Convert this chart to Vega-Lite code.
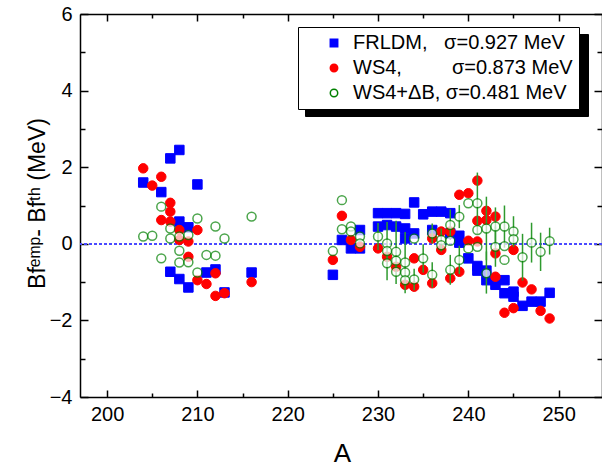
{
  "$schema": "https://vega.github.io/schema/vega-lite/v6.json",
  "width": 522,
  "height": 383,
  "autosize": {"type": "none"},
  "padding": {"left": 80, "top": 14, "right": 0, "bottom": 71},
  "background": "white",
  "config": {
    "font": "Liberation Sans",
    "view": {"stroke": null},
    "axis": {
      "grid": false,
      "domainColor": "black",
      "domainWidth": 1.5,
      "tickColor": "black",
      "tickWidth": 1.5,
      "labelColor": "black",
      "titleColor": "black",
      "labelFont": "Liberation Sans",
      "titleFont": "Liberation Sans",
      "titleFontWeight": "normal",
      "labelFontSize": 20
    }
  },
  "data": {
    "values": [
      {"model": "FRLDM", "A": 204, "v": 1.60}, {"model": "FRLDM", "A": 206, "v": 1.35}, {"model": "FRLDM", "A": 207, "v": 2.23}, {"model": "FRLDM", "A": 208, "v": 2.45}, {"model": "FRLDM", "A": 210, "v": 1.55}, {"model": "FRLDM", "A": 208, "v": 0.58}, {"model": "FRLDM", "A": 209, "v": 0.43}, {"model": "FRLDM", "A": 207, "v": -0.73}, {"model": "FRLDM", "A": 208, "v": -0.92}, {"model": "FRLDM", "A": 209, "v": -1.14}, {"model": "FRLDM", "A": 211, "v": -0.75}, {"model": "FRLDM", "A": 212, "v": -0.67}, {"model": "FRLDM", "A": 213, "v": -1.27}, {"model": "FRLDM", "A": 216, "v": -0.75},
      {"model": "FRLDM", "A": 225, "v": -0.81}, {"model": "FRLDM", "A": 226, "v": 0.10}, {"model": "FRLDM", "A": 227, "v": -0.12}, {"model": "FRLDM", "A": 228, "v": 0.36}, {"model": "FRLDM", "A": 228, "v": -0.12}, {"model": "FRLDM", "A": 230, "v": 0.80}, {"model": "FRLDM", "A": 230, "v": 0.45}, {"model": "FRLDM", "A": 231, "v": 0.80}, {"model": "FRLDM", "A": 231, "v": 0.49}, {"model": "FRLDM", "A": 232, "v": 0.80}, {"model": "FRLDM", "A": 232, "v": 0.45}, {"model": "FRLDM", "A": 233, "v": 0.78}, {"model": "FRLDM", "A": 233, "v": 0.40}, {"model": "FRLDM", "A": 233, "v": 0.14}, {"model": "FRLDM", "A": 234, "v": 1.08}, {"model": "FRLDM", "A": 234, "v": 0.27}, {"model": "FRLDM", "A": 235, "v": 0.77}, {"model": "FRLDM", "A": 236, "v": 0.84}, {"model": "FRLDM", "A": 236, "v": 0.36}, {"model": "FRLDM", "A": 237, "v": 0.84}, {"model": "FRLDM", "A": 238, "v": 0.80}, {"model": "FRLDM", "A": 238, "v": 0.27}, {"model": "FRLDM", "A": 239, "v": 0.21}, {"model": "FRLDM", "A": 239, "v": 0.03}, {"model": "FRLDM", "A": 240, "v": -0.38}, {"model": "FRLDM", "A": 241, "v": -0.58}, {"model": "FRLDM", "A": 241, "v": -0.70}, {"model": "FRLDM", "A": 242, "v": -0.70}, {"model": "FRLDM", "A": 242, "v": -0.95}, {"model": "FRLDM", "A": 243, "v": -1.07}, {"model": "FRLDM", "A": 244, "v": -0.95}, {"model": "FRLDM", "A": 244, "v": -1.29}, {"model": "FRLDM", "A": 245, "v": -1.25}, {"model": "FRLDM", "A": 245, "v": -1.38}, {"model": "FRLDM", "A": 246, "v": -1.62}, {"model": "FRLDM", "A": 247, "v": -1.51}, {"model": "FRLDM", "A": 248, "v": -1.51}, {"model": "FRLDM", "A": 249, "v": -1.28},
      {"model": "WS4", "A": 204, "v": 1.97}, {"model": "WS4", "A": 205, "v": 1.52}, {"model": "WS4", "A": 206, "v": 1.75}, {"model": "WS4", "A": 207, "v": 1.07}, {"model": "WS4", "A": 207, "v": 0.84}, {"model": "WS4", "A": 206, "v": 0.62}, {"model": "WS4", "A": 207, "v": 0.58}, {"model": "WS4", "A": 208, "v": 0.36}, {"model": "WS4", "A": 210, "v": 0.36}, {"model": "WS4", "A": 209, "v": 0.06}, {"model": "WS4", "A": 208, "v": 0.10}, {"model": "WS4", "A": 209, "v": -0.34}, {"model": "WS4", "A": 210, "v": -0.95}, {"model": "WS4", "A": 211, "v": -1.05}, {"model": "WS4", "A": 212, "v": -0.77}, {"model": "WS4", "A": 212, "v": -1.36}, {"model": "WS4", "A": 213, "v": -1.29}, {"model": "WS4", "A": 216, "v": -1.00},
      {"model": "WS4", "A": 225, "v": -0.42}, {"model": "WS4", "A": 226, "v": 0.73}, {"model": "WS4", "A": 227, "v": 0.10}, {"model": "WS4", "A": 228, "v": -0.08}, {"model": "WS4", "A": 230, "v": -0.12}, {"model": "WS4", "A": 231, "v": -0.34}, {"model": "WS4", "A": 232, "v": -0.60}, {"model": "WS4", "A": 233, "v": -1.07}, {"model": "WS4", "A": 234, "v": -1.12}, {"model": "WS4", "A": 234, "v": -0.38}, {"model": "WS4", "A": 235, "v": -0.68}, {"model": "WS4", "A": 236, "v": -1.03}, {"model": "WS4", "A": 236, "v": 0.14}, {"model": "WS4", "A": 237, "v": 0.32}, {"model": "WS4", "A": 237, "v": -0.16}, {"model": "WS4", "A": 238, "v": 0.32}, {"model": "WS4", "A": 238, "v": -0.90}, {"model": "WS4", "A": 239, "v": -0.73}, {"model": "WS4", "A": 239, "v": 1.28}, {"model": "WS4", "A": 240, "v": 1.32}, {"model": "WS4", "A": 240, "v": 0.08}, {"model": "WS4", "A": 241, "v": 1.65}, {"model": "WS4", "A": 241, "v": 0.60}, {"model": "WS4", "A": 241, "v": 0.06}, {"model": "WS4", "A": 242, "v": 0.86}, {"model": "WS4", "A": 242, "v": 0.62}, {"model": "WS4", "A": 243, "v": 0.71}, {"model": "WS4", "A": 243, "v": -0.25}, {"model": "WS4", "A": 243, "v": -0.86}, {"model": "WS4", "A": 244, "v": -1.80}, {"model": "WS4", "A": 245, "v": -0.16}, {"model": "WS4", "A": 245, "v": -1.68}, {"model": "WS4", "A": 246, "v": -1.01}, {"model": "WS4", "A": 247, "v": -1.19}, {"model": "WS4", "A": 248, "v": -1.75}, {"model": "WS4", "A": 249, "v": -1.95},
      {"model": "WS4+ΔB", "A": 204, "v": 0.19}, {"model": "WS4+ΔB", "A": 205, "v": 0.21}, {"model": "WS4+ΔB", "A": 206, "v": 0.97}, {"model": "WS4+ΔB", "A": 206, "v": -0.38}, {"model": "WS4+ΔB", "A": 207, "v": 0.40}, {"model": "WS4+ΔB", "A": 207, "v": 0.14}, {"model": "WS4+ΔB", "A": 208, "v": 0.19}, {"model": "WS4+ΔB", "A": 208, "v": -0.18}, {"model": "WS4+ΔB", "A": 208, "v": -0.49}, {"model": "WS4+ΔB", "A": 209, "v": 0.23}, {"model": "WS4+ΔB", "A": 209, "v": -0.48}, {"model": "WS4+ΔB", "A": 210, "v": 0.66}, {"model": "WS4+ΔB", "A": 210, "v": -0.75}, {"model": "WS4+ΔB", "A": 211, "v": -0.29}, {"model": "WS4+ΔB", "A": 212, "v": 0.45}, {"model": "WS4+ΔB", "A": 212, "v": -0.31}, {"model": "WS4+ΔB", "A": 213, "v": 0.14}, {"model": "WS4+ΔB", "A": 216, "v": 0.71},
      {"model": "WS4+ΔB", "A": 225, "v": -0.19}, {"model": "WS4+ΔB", "A": 226, "v": 1.14}, {"model": "WS4+ΔB", "A": 226, "v": 0.38}, {"model": "WS4+ΔB", "A": 227, "v": 0.45}, {"model": "WS4+ΔB", "A": 227, "v": 0.32}, {"model": "WS4+ΔB", "A": 228, "v": 0.19}, {"model": "WS4+ΔB", "A": 228, "v": 0.01},
      {"model": "WS4+ΔB", "A": 230, "v": 0.19, "lo": -0.16, "hi": 0.54}, {"model": "WS4+ΔB", "A": 231, "v": 0.01}, {"model": "WS4+ΔB", "A": 231, "v": -0.19, "lo": -0.95, "hi": 0.57}, {"model": "WS4+ΔB", "A": 231, "v": -0.51}, {"model": "WS4+ΔB", "A": 232, "v": -0.21, "lo": -1.05, "hi": 0.60}, {"model": "WS4+ΔB", "A": 232, "v": -0.44}, {"model": "WS4+ΔB", "A": 232, "v": -0.73}, {"model": "WS4+ΔB", "A": 233, "v": -0.49, "lo": -1.29, "hi": 0.31}, {"model": "WS4+ΔB", "A": 233, "v": -0.75}, {"model": "WS4+ΔB", "A": 233, "v": -0.95}, {"model": "WS4+ΔB", "A": 234, "v": 0.14}, {"model": "WS4+ΔB", "A": 234, "v": -0.93, "lo": -1.21, "hi": -0.65}, {"model": "WS4+ΔB", "A": 235, "v": -0.38, "lo": -0.75, "hi": -0.01}, {"model": "WS4+ΔB", "A": 236, "v": 0.27, "lo": 0.01, "hi": 0.53}, {"model": "WS4+ΔB", "A": 236, "v": -0.81, "lo": -1.14, "hi": -0.48}, {"model": "WS4+ΔB", "A": 237, "v": 0.10, "lo": -0.2, "hi": 0.4}, {"model": "WS4+ΔB", "A": 237, "v": -0.04}, {"model": "WS4+ΔB", "A": 238, "v": 0.49, "lo": 0.1, "hi": 0.9}, {"model": "WS4+ΔB", "A": 238, "v": 0.08}, {"model": "WS4+ΔB", "A": 238, "v": -0.68, "lo": -1.07, "hi": -0.29}, {"model": "WS4+ΔB", "A": 239, "v": 0.71, "lo": 0.41, "hi": 1.01}, {"model": "WS4+ΔB", "A": 239, "v": -0.42, "lo": -0.79, "hi": -0.05}, {"model": "WS4+ΔB", "A": 240, "v": 1.06}, {"model": "WS4+ΔB", "A": 240, "v": -0.12}, {"model": "WS4+ΔB", "A": 241, "v": 1.06, "lo": 0.26, "hi": 1.86}, {"model": "WS4+ΔB", "A": 241, "v": 0.36}, {"model": "WS4+ΔB", "A": 241, "v": -0.08}, {"model": "WS4+ΔB", "A": 242, "v": 0.40, "lo": -0.43, "hi": 1.23}, {"model": "WS4+ΔB", "A": 242, "v": -0.77, "lo": -1.3, "hi": -0.2}, {"model": "WS4+ΔB", "A": 243, "v": 0.45, "lo": -0.05, "hi": 0.95}, {"model": "WS4+ΔB", "A": 243, "v": -0.08, "lo": -0.6, "hi": 0.45}, {"model": "WS4+ΔB", "A": 244, "v": 0.45, "lo": -0.1, "hi": 1.0}, {"model": "WS4+ΔB", "A": 244, "v": -0.06}, {"model": "WS4+ΔB", "A": 244, "v": -0.42}, {"model": "WS4+ΔB", "A": 245, "v": 0.32, "lo": -0.08, "hi": 0.72}, {"model": "WS4+ΔB", "A": 245, "v": 0.12}, {"model": "WS4+ΔB", "A": 246, "v": -0.35, "lo": -0.96, "hi": 0.26}, {"model": "WS4+ΔB", "A": 247, "v": 0.03, "lo": -0.49, "hi": 0.55}, {"model": "WS4+ΔB", "A": 248, "v": -0.21, "lo": -0.71, "hi": 0.29}, {"model": "WS4+ΔB", "A": 249, "v": 0.07, "lo": -0.28, "hi": 0.42}
    ]
  },
  "resolve": {"axis": {"x": "independent", "y": "independent"}},
  "layer": [
    {
      "mark": {"type": "rule", "color": "#4a4aff", "strokeDash": [3, 2], "strokeWidth": 1},
      "encoding": {
        "y": {"datum": 0, "type": "quantitative", "scale": {"domain": [-4, 6], "nice": false, "zero": false}, "axis": null}
      }
    },
    {
      "transform": [{"filter": "datum.model !== 'WS4+ΔB'"}],
      "mark": {"type": "point", "filled": true, "size": 90, "opacity": 1, "strokeWidth": 1},
      "encoding": {
        "x": {
          "field": "A", "type": "quantitative",
          "scale": {"domain": [197, 254.8], "nice": false, "zero": false},
          "axis": {
            "orient": "bottom",
            "values": [200, 205, 210, 215, 220, 225, 230, 235, 240, 245, 250],
            "labelExpr": "datum.value % 10 === 0 ? datum.label : ''",
            "tickSize": {"condition": {"test": "datum.value % 10 !== 0", "value": -4}, "value": -7},
            "labelPadding": 14,
            "title": "A",
            "titleFontSize": 26,
            "titleX": 262,
            "titleY": 64,
            "titleBaseline": "alphabetic",
            "titleAlign": "center"
          }
        },
        "y": {
          "field": "v", "type": "quantitative",
          "scale": {"domain": [-4, 6], "nice": false, "zero": false},
          "axis": {
            "orient": "left",
            "values": [-4, -3, -2, -1, 0, 1, 2, 3, 4, 5, 6],
            "labelExpr": "datum.value % 2 === 0 ? datum.label : ''",
            "tickSize": {"condition": {"test": "datum.value % 2 !== 0", "value": -5}, "value": -8},
            "labelPadding": 16,
            "title": "Bfᵉᵐᵖ- Bfᵗʰ (MeV)",
            "titleFontSize": 23,
            "titleAngle": 270,
            "titleX": -36,
            "titleY": 189,
            "titleBaseline": "alphabetic",
            "titleAlign": "center"
          }
        },
        "shape": {
          "field": "model", "type": "nominal",
          "scale": {"domain": ["FRLDM", "WS4", "WS4+ΔB"], "range": ["square", "circle", "circle"]},
          "legend": {
            "orient": "none", "legendX": 218, "legendY": 13, "title": null,
            "fillColor": "white", "strokeColor": "black",
            "padding": 6, "rowPadding": 5,
            "symbolSize": 55, "symbolStrokeWidth": 1.5, "symbolOffset": 20, "labelOffset": 9,
            "labelFontSize": 20, "labelFont": "Liberation Sans", "labelColor": "black", "labelLimit": 400,
            "zindex": 2,
            "labelExpr": "datum.label === 'FRLDM' ? 'FRLDM,\u00a0\u00a0\u00a0σ=0.927 MeV\u00a0\u00a0' : datum.label === 'WS4' ? 'WS4,\u00a0\u00a0\u00a0\u00a0\u00a0\u00a0\u00a0\u00a0\u00a0σ=0.873 MeV\u00a0\u00a0' : 'WS4+ΔB, σ=0.481 MeV\u00a0\u00a0'"
          }
        },
        "fill": {
          "field": "model", "type": "nominal",
          "scale": {"domain": ["FRLDM", "WS4", "WS4+ΔB"], "range": ["#0000ff", "#ff0000", "white"]}
        },
        "stroke": {
          "field": "model", "type": "nominal",
          "scale": {"domain": ["FRLDM", "WS4", "WS4+ΔB"], "range": ["#0000ff", "#ff0000", "#008000"]}
        }
      }
    },
    {
      "transform": [{"filter": "isValid(datum.lo)"}],
      "mark": {"type": "rule", "color": "#2e9a2e", "strokeWidth": 1.5},
      "encoding": {
        "x": {"field": "A", "type": "quantitative", "axis": null},
        "y": {"field": "lo", "type": "quantitative", "axis": null},
        "y2": {"field": "hi"}
      }
    },
    {
      "transform": [{"filter": "datum.model === 'WS4+ΔB'"}],
      "mark": {"type": "point", "filled": true, "size": 80, "strokeWidth": 1.5},
      "encoding": {
        "x": {"field": "A", "type": "quantitative", "axis": null},
        "y": {"field": "v", "type": "quantitative", "axis": null},
        "shape": {"field": "model", "type": "nominal", "legend": null},
        "fill": {"field": "model", "type": "nominal", "legend": null},
        "stroke": {"field": "model", "type": "nominal", "legend": null}
      }
    },
    {
      "mark": {"type": "point", "opacity": 0},
      "encoding": {
        "x": {
          "field": "A", "type": "quantitative",
          "axis": {
            "orient": "top", "labels": false, "title": null,
            "values": [200, 205, 210, 215, 220, 225, 230, 235, 240, 245, 250],
            "tickSize": {"condition": {"test": "datum.value % 10 !== 0", "value": -4}, "value": -7}
          }
        },
        "y": {
          "field": "v", "type": "quantitative",
          "axis": {
            "orient": "right", "labels": false, "title": null,
            "values": [-4, -3, -2, -1, 0, 1, 2, 3, 4, 5, 6],
            "tickSize": {"condition": {"test": "datum.value % 2 !== 0", "value": -5}, "value": -8}
          }
        },
        "color": {
          "field": "model", "type": "nominal",
          "scale": {"domain": ["WS4+ΔB", "WS4", "FRLDM"], "range": ["black", "black", "black"]},
          "legend": {
            "orient": "none", "legendX": 225, "legendY": 20, "title": null,
            "fillColor": "black", "strokeColor": "black",
            "padding": 6, "rowPadding": 5,
            "symbolSize": 55, "symbolOffset": 20, "labelOffset": 231, "symbolOpacity": 0,
            "labelFontSize": 20, "labelFont": "Liberation Sans", "labelColor": "black", "labelLimit": 400,
            "zindex": 1,
            "labelExpr": "'\u00a0\u00a0\u00a0\u00a0\u00a0\u00a0\u00a0\u00a0\u00a0\u00a0\u00a0\u00a0\u00a0\u00a0\u00a0\u00a0\u00a0\u00a0\u00a0\u00a0\u00a0\u00a0\u00a0\u00a0\u00a0\u00a0\u00a0\u00a0\u00a0\u00a0\u00a0\u00a0\u00a0\u00a0\u00a0\u00a0\u00a0\u00a0\u00a0\u00a0\u00a0'"
          }
        }
      }
    }
  ]
}
